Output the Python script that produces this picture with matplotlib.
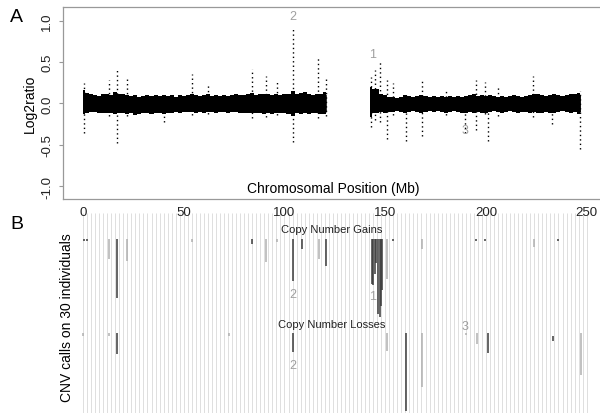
import matplotlib
matplotlib.use("Agg")
import matplotlib.pyplot as plt
import numpy as np

plt.rcParams['font.family'] = ['Liberation Sans', 'DejaVu Sans']

# ---------------- Panel A data ----------------
# dense log2ratio band envelope (Mb, upper, lower)
band_left_pos = [0, 2, 4, 6, 8, 10, 12, 14, 16, 18, 20, 22, 24, 26, 28, 30, 32, 34, 36, 38, 40,
                 42, 44, 46, 48, 50, 52, 54, 56, 58, 60, 62, 64, 66, 68, 70, 72, 74, 76, 78, 80,
                 82, 84, 86, 88, 90, 92, 94, 96, 98, 100, 102, 104, 106, 108, 110, 112, 114, 116, 118, 120.5]
band_left_up = [0.16, 0.13, 0.11, 0.10, 0.09, 0.11, 0.12, 0.10, 0.14, 0.11, 0.12, 0.10, 0.09, 0.10, 0.08, 0.09, 0.10, 0.09, 0.10, 0.09, 0.10,
                0.09, 0.10, 0.08, 0.10, 0.09, 0.10, 0.12, 0.10, 0.09, 0.10, 0.11, 0.09, 0.10, 0.09, 0.10, 0.09, 0.10, 0.11, 0.10, 0.10,
                0.11, 0.13, 0.10, 0.11, 0.12, 0.11, 0.10, 0.11, 0.10, 0.11, 0.12, 0.15, 0.12, 0.13, 0.14, 0.11, 0.10, 0.12, 0.11, 0.14]
band_left_lo = [-0.13, -0.11, -0.10, -0.10, -0.11, -0.12, -0.11, -0.12, -0.13, -0.12, -0.12, -0.13, -0.12, -0.14, -0.13, -0.12, -0.12, -0.13, -0.11, -0.12, -0.13,
                -0.12, -0.11, -0.10, -0.11, -0.10, -0.10, -0.10, -0.11, -0.10, -0.11, -0.10, -0.10, -0.11, -0.10, -0.10, -0.11, -0.10, -0.10, -0.11, -0.12,
                -0.12, -0.12, -0.11, -0.12, -0.13, -0.12, -0.13, -0.12, -0.12, -0.12, -0.13, -0.15, -0.12, -0.13, -0.12, -0.13, -0.12, -0.12, -0.13, -0.13]
band_right_pos = [142.5, 144, 146, 148, 150, 152, 154, 156, 158, 160, 162, 164, 166, 168, 170, 172, 174, 176, 178, 180,
                  182, 184, 186, 188, 190, 192, 194, 196, 198, 200, 202, 204, 206, 208, 210, 212, 214, 216, 218, 220,
                  222, 224, 226, 228, 230, 232, 234, 236, 238, 240, 242, 244, 246.7]
band_right_up = [0.20, 0.18, 0.17, 0.12, 0.10, 0.08, 0.08, 0.07, 0.08, 0.10, 0.09, 0.08, 0.09, 0.10, 0.09, 0.08, 0.09, 0.08, 0.09, 0.08,
                 0.09, 0.08, 0.09, 0.08, 0.09, 0.10, 0.11, 0.09, 0.10, 0.09, 0.10, 0.09, 0.08, 0.09, 0.08, 0.09, 0.10, 0.09, 0.08, 0.09,
                 0.10, 0.11, 0.12, 0.10, 0.09, 0.10, 0.11, 0.10, 0.09, 0.10, 0.11, 0.12, 0.13]
band_right_lo = [-0.16, -0.12, -0.12, -0.10, -0.12, -0.10, -0.10, -0.09, -0.10, -0.12, -0.10, -0.09, -0.10, -0.11, -0.10, -0.09, -0.10, -0.09, -0.10, -0.11,
                 -0.10, -0.09, -0.10, -0.11, -0.12, -0.10, -0.11, -0.10, -0.11, -0.12, -0.10, -0.09, -0.10, -0.11, -0.10, -0.09, -0.10, -0.11, -0.10, -0.10,
                 -0.11, -0.10, -0.11, -0.12, -0.10, -0.11, -0.12, -0.10, -0.09, -0.10, -0.11, -0.10, -0.13]

# spikes: position (Mb), highest and lowest log2ratio
spike_pos = [0.5, 12.8, 16.7, 21.7, 40.0, 54.0, 62.0, 83.7, 90.8, 96.5, 104.0, 116.7, 120.4,
             142.8, 145.0, 147.4, 150.7, 154.0, 160.1, 168.2, 180.0, 189.6, 195.0, 199.5, 200.9,
             205.8, 223.5, 233.0, 246.6]
spike_top = [0.25, 0.28, 0.43, 0.29, 0.10, 0.35, 0.23, 0.42, 0.33, 0.26, 0.90, 0.57, 0.29,
             0.32, 0.40, 0.53, 0.28, 0.25, 0.12, 0.29, 0.17, 0.10, 0.28, 0.26, 0.10,
             0.20, 0.33, 0.10, 0.15]
spike_bot = [-0.36, -0.15, -0.48, -0.15, -0.22, -0.14, -0.13, -0.18, -0.16, -0.14, -0.46, -0.18, -0.15,
             -0.28, -0.20, -0.22, -0.43, -0.14, -0.45, -0.39, -0.14, -0.35, -0.32, -0.13, -0.45,
             -0.15, -0.16, -0.25, -0.55]

# annotated regions (label, Mb, log2ratio)
regionA_lab = ["2", "1", "3"]
regionA_x = [104.0, 143.8, 189.5]
regionA_y = [1.06, 0.60, -0.32]

# ---------------- Panel B data ----------------
# CNV calls: position (Mb), first and last individual, shade (0=dark,1=light)
gain_pos = [0.3, 1.8, 12.8, 16.7, 21.7, 54.0, 83.7, 90.8, 96.5, 104.0, 108.8, 117.0, 120.4,
            143.5, 144.0, 144.7, 145.5, 146.5, 147.2, 147.9, 148.5, 150.7, 154.0, 168.5,
            195.0, 199.5, 224.0, 235.6]
gain_start = [1, 1, 1, 1, 1, 1, 1, 1, 1, 1, 1, 1, 1,
              1, 1, 1, 1, 1, 1, 1, 1, 1, 1, 1,
              1, 1, 1, 1]
gain_end = [1.6, 1.6, 8.4, 23.0, 9.0, 2.0, 3.0, 9.5, 2.0, 16.6, 4.7, 8.4, 11.0,
            17.7, 18.0, 14.0, 10.0, 29.0, 30.0, 26.0, 20.0, 15.9, 1.6, 4.7,
            1.6, 1.6, 4.0, 1.6]
gain_shade = [0, 0, 1, 0, 1, 1, 0, 1, 1, 0, 0, 1, 0,
              0, 0, 0, 0, 0, 0, 0, 0, 1, 0, 1,
              0, 0, 1, 0]

loss_pos = [0.0, 13.0, 16.7, 72.6, 104.0, 151.0, 160.1, 168.4, 190.2, 195.5, 200.9, 233.5, 247.0]
loss_start = [1, 1, 1, 1, 1, 1, 1, 1, 1, 1, 1, 2, 1]
loss_end = [2.0, 2.0, 8.7, 2.0, 8.0, 7.6, 30.0, 21.0, 1.6, 5.0, 8.5, 4.0, 16.6]
loss_shade = [1, 1, 0, 1, 0, 1, 0, 1, 1, 1, 0, 0, 1]

regionB_lab = ["2", "1", "2", "3"]
regionB_x = [104.0, 143.8, 104.0, 189.5]
regionB_y = [21.5, 22.3, 47.8, 33.2]   # row units (losses offset by 35)

x_ticks = [0, 50, 100, 150, 200, 250]
y_ticks = [-1.0, -0.5, 0.0, 0.5, 1.0]

LOSS_OFFSET = 35
shade_col = ["#3a3a3a", "#b0b0b0"]
lab_col = "#a0a0a0"

# ---------------- Figure ----------------
W, H = 600, 414
fig = plt.figure(figsize=(6.0, 4.14), dpi=100)

# Panel B (drawn first, transparent)
xl = (-9.93, 258.1)
axB = fig.add_axes([63 / W, 0, 540 / W, 200 / H])
axB.patch.set_visible(False)
axB.set_xlim(*xl)
axB.set_ylim(65.7, -8.67)
grid_x = np.arange(0, 252, 2)
axB.vlines(grid_x, -8.67, 65.7, colors="#dedede", linewidth=0.7, zorder=0)

axB.vlines(gain_pos, gain_start, gain_end,
           colors=[shade_col[s] for s in gain_shade], linewidth=1.1, zorder=2)
axB.vlines(loss_pos, np.array(loss_start) + LOSS_OFFSET, np.array(loss_end) + LOSS_OFFSET,
           colors=[shade_col[s] for s in loss_shade], linewidth=1.1, zorder=2)
for lab, x, y in zip(regionB_lab, regionB_x, regionB_y):
    axB.text(x, y, lab, color=lab_col, fontsize=9, ha="center", va="center")
axB.text(123.5, -2.6, "Copy Number Gains", fontsize=8, ha="center", va="center", color="#222222")
axB.text(123.5, 32.6, "Copy Number Losses", fontsize=8, ha="center", va="center", color="#222222")
axB.set_xticks([])
axB.set_yticks([])
for s in axB.spines.values():
    s.set_visible(False)

# Panel A
axA = fig.add_axes([63 / W, 1 - 200 / H, 540 / W, 192 / H])
axA.set_xlim(*xl)
axA.set_ylim(-1.152, 1.164)

for pos, up, lo in [(band_left_pos, band_left_up, band_left_lo),
                    (band_right_pos, band_right_up, band_right_lo)]:
    axA.fill_between(pos, lo, up, step="mid", color="black", lw=0)
    axA.fill_between(pos, np.array(lo) * 0.75, np.array(up) * 0.75, color="black", lw=0.6)

axA.vlines(spike_pos, spike_bot, spike_top, colors="black", linewidth=1.0,
           linestyles=(0, (1.0, 2.2)))
for lab, x, y in zip(regionA_lab, regionA_x, regionA_y):
    axA.text(x, y, lab, color=lab_col, fontsize=9, ha="center", va="center")

axA.set_xticks(x_ticks)
axA.set_xticklabels([str(t) for t in x_ticks], fontsize=9.5)
axA.set_yticks(y_ticks)
axA.set_yticklabels([f"{t:.1f}" for t in y_ticks], fontsize=9.5, rotation=90, va="center")
axA.tick_params(axis="x", length=0, pad=5, colors="#222222")
axA.tick_params(axis="y", length=3, width=0.8, pad=4, color="#999999", labelcolor="#222222")
for s in ["top", "left", "bottom"]:
    axA.spines[s].set_color("#999999")
    axA.spines[s].set_linewidth(0.9)
axA.spines["right"].set_visible(False)
axA.set_ylabel("Log2ratio", fontsize=10, labelpad=3)
axA.text(0.5, 0.055, "Chromosomal Position (Mb)", transform=axA.transAxes,
         ha="center", va="center", fontsize=10)

fig.text(67 / W, 1 - 318 / H, "CNV calls on 30 individuals", rotation=90,
         ha="center", va="center", fontsize=10)

fig.text(10 / W, 1 - 18 / H, "A", fontsize=14, ha="left", va="center")
fig.text(10 / W, 1 - 225 / H, "B", fontsize=14, ha="left", va="center")

fig.savefig("out.png", dpi=100)
